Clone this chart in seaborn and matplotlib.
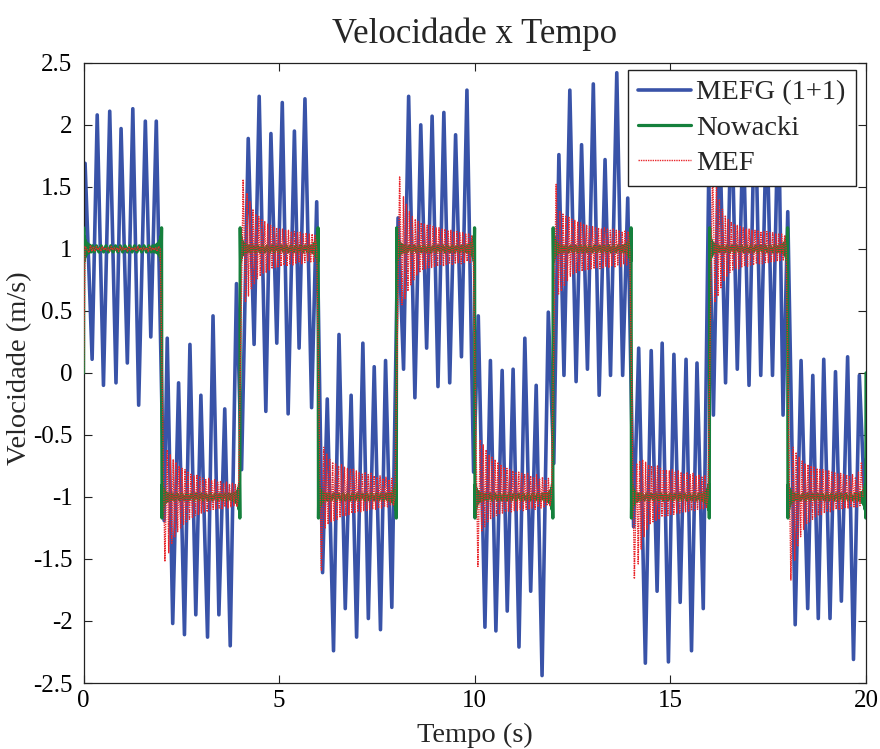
import numpy as np
import pandas as pd
import matplotlib
matplotlib.use("Agg")
import matplotlib.pyplot as plt
import seaborn as sns

# ---------------- data ----------------
# MEFG (1+1): successive extrema of the blue curve
blue_t = [0.00, 0.04, 0.22, 0.35, 0.51, 0.67, 0.83, 0.96, 1.12, 1.26, 1.41, 1.58, 1.72, 1.86, 2.06,
          2.14, 2.28, 2.43, 2.58, 2.72, 2.87, 3.00, 3.17, 3.31, 3.46, 3.61, 3.75, 3.91, 4.04,
          4.21, 4.36, 4.49, 4.66, 4.79, 4.94, 5.08, 5.23, 5.39, 5.51, 5.66, 5.83, 5.96, 6.11,
          6.23, 6.39, 6.53, 6.69, 6.84, 6.98, 7.14, 7.28, 7.43, 7.59, 7.72, 7.88, 8.04,
          8.18, 8.31, 8.47, 8.62, 8.77, 8.91, 9.06, 9.21, 9.36, 9.51, 9.66, 9.80, 9.97, 10.09,
          10.26, 10.40, 10.54, 10.70, 10.83, 10.98, 11.13, 11.28, 11.43, 11.57, 11.72, 11.88, 12.02,
          12.15, 12.28, 12.43, 12.59, 12.73, 12.88, 13.03, 13.18, 13.33, 13.47, 13.63, 13.78, 13.91, 14.06,
          14.19, 14.36, 14.51, 14.66, 14.79, 14.95, 15.09, 15.25, 15.40, 15.54, 15.68, 15.84, 15.98,
          16.10, 16.25, 16.41, 16.56, 16.71, 16.86, 17.01, 17.16, 17.31, 17.46, 17.61, 17.76, 17.88, 18.00,
          18.19, 18.34, 18.51, 18.64, 18.78, 18.92, 19.08, 19.22, 19.37, 19.53, 19.68, 19.83, 19.96, 20.00]
blue_v = [1.00, 1.69, 0.11, 2.08, -0.10, 2.11, -0.08, 1.97, 0.08, 2.13, -0.26, 2.03, 0.29, 2.03, -1.19,
          0.28, -2.02, -0.08, -2.11, 0.23, -1.95, -0.18, -2.13, 0.46, -1.95, -0.29, -2.20, 0.72, -0.78,
          1.89, 0.23, 2.23, -0.31, 1.93, 0.24, 2.18, -0.33, 1.95, 0.20, 2.21, -0.28, 1.38, -1.61,
          -0.21, -2.24, 0.31, -1.90, -0.18, -2.13, 0.24, -1.98, 0.05, -2.07, 0.10, -1.89, 1.25,
          0.03, 2.23, -0.20, 2.00, 0.20, 2.07, -0.11, 2.10, -0.08, 1.92, 0.13, 2.28, -0.80, 0.46,
          -2.05, 0.10, -2.08, 0.02, -1.92, 0.03, -2.21, 0.28, -1.76, -0.10, -2.44, 0.49, -0.73,
          1.76, -0.02, 2.28, -0.07, 1.84, 0.03, 2.33, -0.18, 1.72, -0.02, 2.42, -0.02, 1.41, -1.24,
          0.20, -2.34, 0.18, -1.76, 0.24, -2.33, 0.15, -1.85, 0.11, -2.24, 0.08, -1.90, 1.60,
          -0.34, 2.10, -0.08, 2.20, 0.03, 2.00, -0.10, 2.30, -0.02, 2.10, -0.02, 2.20, -0.34, 1.30,
          -2.03, 0.10, -1.90, -0.02, -1.98, 0.11, -1.98, 0.01, -1.84, 0.13, -2.31, -0.02, -1.00, -0.70]

# square-wave levels of each 2 s half period
seg_level = [1, -1, 1, -1, 1, -1, 1, -1, 1, -1]

# Nowacki: ringing around the level (relative to level) near a jump, and in the flat part
green_edge_dt = [0.005, 0.015, 0.025, 0.035, 0.045, 0.06, 0.075, 0.09, 0.11, 0.13, 0.16, 0.19, 0.23]
green_edge_v = [1.17, 0.90, 1.10, 0.93, 1.07, 0.95, 1.05, 0.96, 1.04, 0.97, 1.03, 0.975, 1.025]
green_mid_v = [0.975, 1.025, 0.975, 1.025, 0.975, 1.025, 0.975, 1.025, 0.975, 1.025, 0.975, 1.025,
               0.975, 1.025, 0.975, 1.025, 0.975, 1.025, 0.975, 1.025, 0.975, 1.025, 0.975, 1.025, 0.975]

# MEF: overshoot after each jump, then upper / lower extrema of the ringing
red_peak = [1.02, -1.52, 1.56, -1.59, 1.58, -1.56, 1.52, -1.66, 1.70, -1.67]
red_hi = [
    [1.03, 1.02, 1.02, 1.01, 1.02, 1.01, 1.01, 1.02, 1.01, 1.01, 1.02, 1.01,
     1.01, 1.02, 1.01, 1.01, 1.02, 1.01, 1.01, 1.01, 1.02, 1.01, 1.01, 1.02],
    [-0.62, -0.66, -0.70, -0.72, -0.75, -0.77, -0.78, -0.80, -0.81, -0.83, -0.82, -0.84,
     -0.85, -0.86, -0.85, -0.87, -0.86, -0.88, -0.87, -0.89, -0.88, -0.90, -0.89, -0.90],
    [1.45, 1.38, 1.32, 1.28, 1.26, 1.24, 1.22, 1.20, 1.19, 1.18, 1.17, 1.16,
     1.16, 1.15, 1.15, 1.14, 1.14, 1.13, 1.14, 1.12, 1.13, 1.12, 1.12, 1.11],
    [-0.60, -0.65, -0.69, -0.72, -0.73, -0.75, -0.74, -0.76, -0.77, -0.78, -0.77, -0.79,
     -0.80, -0.81, -0.80, -0.82, -0.81, -0.83, -0.84, -0.83, -0.85, -0.84, -0.86, -0.85],
    [1.42, 1.36, 1.30, 1.26, 1.24, 1.22, 1.21, 1.20, 1.19, 1.19, 1.18, 1.17,
     1.17, 1.16, 1.16, 1.15, 1.15, 1.14, 1.14, 1.13, 1.13, 1.12, 1.12, 1.11],
    [-0.54, -0.58, -0.62, -0.66, -0.68, -0.70, -0.72, -0.74, -0.76, -0.77, -0.78, -0.79,
     -0.80, -0.80, -0.81, -0.82, -0.81, -0.83, -0.84, -0.82, -0.85, -0.84, -0.86, -0.85],
    [1.30, 1.28, 1.27, 1.26, 1.24, 1.23, 1.22, 1.21, 1.20, 1.19, 1.18, 1.18,
     1.17, 1.17, 1.16, 1.17, 1.16, 1.15, 1.16, 1.15, 1.15, 1.14, 1.15, 1.14],
    [-0.73, -0.71, -0.70, -0.72, -0.74, -0.75, -0.76, -0.75, -0.77, -0.78, -0.78, -0.79,
     -0.78, -0.80, -0.79, -0.80, -0.81, -0.80, -0.82, -0.81, -0.83, -0.82, -0.84, -0.83],
    [1.50, 1.40, 1.32, 1.27, 1.24, 1.22, 1.20, 1.19, 1.18, 1.17, 1.16, 1.16,
     1.15, 1.15, 1.15, 1.14, 1.14, 1.14, 1.13, 1.13, 1.12, 1.12, 1.12, 1.11],
    [-0.60, -0.64, -0.68, -0.71, -0.73, -0.74, -0.75, -0.76, -0.77, -0.78, -0.78, -0.79,
     -0.79, -0.80, -0.80, -0.81, -0.81, -0.82, -0.82, -0.83, -0.82, -0.84, -0.80, -0.72],
]
red_lo = [
    [0.97, 0.98, 0.98, 0.99, 0.98, 0.99, 0.99, 0.98, 0.99, 0.99, 0.98, 0.99,
     0.99, 0.98, 0.99, 0.99, 0.98, 0.99, 0.99, 0.99, 0.98, 0.99, 0.99, 0.98],
    [-1.45, -1.38, -1.32, -1.28, -1.25, -1.22, -1.20, -1.18, -1.17, -1.15, -1.14, -1.13,
     -1.12, -1.12, -1.11, -1.10, -1.10, -1.09, -1.10, -1.08, -1.09, -1.08, -1.07, -1.08],
    [0.57, 0.62, 0.68, 0.72, 0.76, 0.78, 0.80, 0.81, 0.83, 0.84, 0.85, 0.85,
     0.86, 0.87, 0.86, 0.88, 0.87, 0.88, 0.89, 0.88, 0.89, 0.90, 0.89, 0.90],
    [-1.25, -1.22, -1.20, -1.19, -1.18, -1.16, -1.15, -1.15, -1.14, -1.13, -1.13, -1.12,
     -1.12, -1.11, -1.11, -1.10, -1.10, -1.10, -1.09, -1.09, -1.08, -1.08, -1.07, -1.07],
    [0.55, 0.60, 0.66, 0.71, 0.75, 0.79, 0.81, 0.83, 0.84, 0.85, 0.85, 0.86,
     0.86, 0.87, 0.86, 0.87, 0.88, 0.87, 0.88, 0.89, 0.88, 0.89, 0.90, 0.89],
    [-1.28, -1.24, -1.20, -1.18, -1.16, -1.15, -1.14, -1.13, -1.12, -1.12, -1.12, -1.11,
     -1.11, -1.10, -1.11, -1.10, -1.10, -1.09, -1.10, -1.08, -1.09, -1.08, -1.07, -1.07],
    [0.63, 0.66, 0.70, 0.74, 0.78, 0.80, 0.81, 0.82, 0.82, 0.83, 0.83, 0.84,
     0.84, 0.85, 0.84, 0.85, 0.86, 0.85, 0.86, 0.85, 0.87, 0.86, 0.88, 0.87],
    [-1.54, -1.42, -1.32, -1.26, -1.22, -1.20, -1.19, -1.18, -1.16, -1.16, -1.15, -1.14,
     -1.14, -1.13, -1.13, -1.12, -1.12, -1.12, -1.11, -1.11, -1.10, -1.10, -1.10, -1.09],
    [0.57, 0.62, 0.68, 0.74, 0.78, 0.81, 0.83, 0.84, 0.84, 0.85, 0.86, 0.86,
     0.87, 0.87, 0.88, 0.88, 0.88, 0.89, 0.89, 0.89, 0.90, 0.90, 0.90, 0.91],
    [-1.51, -1.40, -1.32, -1.26, -1.22, -1.20, -1.18, -1.16, -1.15, -1.14, -1.13, -1.12,
     -1.12, -1.11, -1.10, -1.10, -1.10, -1.09, -1.09, -1.08, -1.08, -1.08, -1.07, -1.00],
]

x_ticks = [0, 5, 10, 15, 20]
y_ticks = [-2.5, -2, -1.5, -1, -0.5, 0, 0.5, 1, 1.5, 2, 2.5]
y_ticklabels = ["-2.5", "-2", "-1.5", "-1", "-0.5", "0", "0.5", "1", "1.5", "2", "2.5"]

# ---------------- assemble tables ----------------
df_blue = pd.DataFrame({"t": blue_t, "v": blue_v})

g_t, g_v = [0.0], [0.0]
mid_dt = np.linspace(0.27, 1.73, len(green_mid_v))
for k, s in enumerate(seg_level):
    t0 = 2.0 * k
    g_t += [t0 + d for d in green_edge_dt]
    g_v += [s * v for v in green_edge_v]
    g_t += [t0 + d for d in mid_dt]
    g_v += [s * v for v in green_mid_v]
    g_t += [t0 + 2.0 - d for d in green_edge_dt[::-1]]
    g_v += [s * v for v in green_edge_v[::-1]]
g_t.append(20.0)
g_v.append(0.0)
df_green = pd.DataFrame({"t": g_t, "v": g_v})

r_t, r_v = [0.0], [0.0]
ext_dt = np.linspace(0.14, 1.92, 48)
for k, s in enumerate(seg_level):
    t0 = 2.0 * k
    r_t.append(t0 + (0.04 if k == 0 else 0.08))
    r_v.append(red_peak[k])
    first, second = (red_lo[k], red_hi[k]) if s > 0 else (red_hi[k], red_lo[k])
    vals = []
    for a, b in zip(first, second):
        vals += [a, b]
    r_t += [t0 + d for d in ext_dt]
    r_v += vals
    if k < len(seg_level) - 1:
        r_t.append(t0 + 1.96)
        r_v.append(float(s))
df_red = pd.DataFrame({"t": r_t, "v": r_v})

# ---------------- plot ----------------
sns.set_style("white")
plt.rcParams["font.family"] = ["Liberation Serif", "DejaVu Serif"]

fig = plt.figure(figsize=(8.8, 7.49), dpi=100)
ax = fig.add_axes([0.0949, 0.0881, 0.8892, 0.828])

blue_c = "#3953a8"
green_c = "#15803c"
red_c = "#e8252a"

sns.lineplot(data=df_blue, x="t", y="v", sort=False, estimator=None, color=blue_c,
             lw=2.6, ax=ax, label="MEFG (1+1)", zorder=2)
sns.lineplot(data=df_green, x="t", y="v", sort=False, estimator=None, color=green_c,
             lw=2.3, ax=ax, label="Nowacki", zorder=3)
sns.lineplot(data=df_red, x="t", y="v", sort=False, estimator=None, color=red_c,
             lw=1.0, ax=ax, label="MEF", zorder=4)
for ln in ax.get_lines():
    ln.set_solid_joinstyle("round")
ax.get_lines()[2].set_linestyle((0, (1, 0.7)))

ax.set_xlim(0, 20)
ax.set_ylim(-2.5, 2.5)
ax.set_xticks(x_ticks)
ax.set_xticklabels([str(x) for x in x_ticks])
ax.set_yticks(y_ticks)
ax.set_yticklabels(y_ticklabels)
ax.tick_params(direction="in", length=6, width=0.8, colors="#222222", labelcolor="black",
               labelsize=18, top=True, right=True, bottom=True, left=True)
ax.tick_params(axis="x", pad=5)
ax.tick_params(axis="y", pad=8)
for sp in ax.spines.values():
    sp.set_visible(True)
    sp.set_color("#222222")
    sp.set_linewidth(0.9)

ax.set_title("Velocidade x Tempo", fontsize=25, pad=14)
ax.set_xlabel("Tempo (s)", fontsize=20.5, labelpad=8)
ax.set_ylabel("Velocidade (m/s)", fontsize=20.5)
ax.yaxis.set_label_coords(-0.066, 0.508)

leg = ax.legend(loc="upper right", bbox_to_anchor=(0.987, 0.989), borderaxespad=0,
                fontsize=20.5, frameon=True, fancybox=False, framealpha=1,
                edgecolor="#222222", handlelength=1.85, handletextpad=0.2,
                labelspacing=0.33, borderpad=0.35)
leg.get_frame().set_linewidth(1.0)
leg.set_zorder(10)

fig.savefig("out.png", dpi=100)
